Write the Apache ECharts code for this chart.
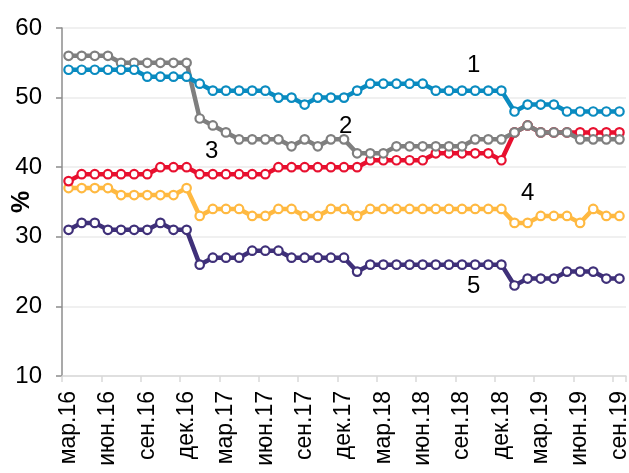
<!DOCTYPE html>
<html>
<head>
<meta charset="utf-8">
<script src="https://cdn.jsdelivr.net/npm/echarts@6/dist/echarts.min.js"></script>
<style>html,body{margin:0;padding:0;background:#fff}#c{width:629px;height:473px}</style>
</head>
<body>
<div id="c"></div>
<script>
const monthNames = ['янв','фев','мар','апр','май','июн','июл','авг','сен','окт','ноя','дек'];
const categories = [];
for (let y = 16; y <= 19; y++) {
  for (let m = 0; m < 12; m++) {
    if (y === 16 && m < 2) continue;
    if (y === 19 && m > 8) continue;
    categories.push(monthNames[m] + '.' + y);
  }
}
const series1 = [54,54,54,54,54,54,53,53,53,53,52,51,51,51,51,
                 51,50,50,49,50,50,50,51,52,52,52,52,52,51,51,
                 51,51,51,51,48,49,49,49,48,48,48,48,48];
const series2 = [56,56,56,56,55,55,55,55,55,55,47,46,45,44,44,
                 44,44,43,44,43,44,44,42,42,42,43,43,43,43,43,
                 43,44,44,44,45,46,45,45,45,44,44,44,44];
const series3 = [38,39,39,39,39,39,39,40,40,40,39,39,39,39,39,
                 39,40,40,40,40,40,40,40,41,41,41,41,41,42,42,
                 42,42,42,41,45,46,45,45,45,45,45,45,45];
const series4 = [37,37,37,37,36,36,36,36,36,37,33,34,34,34,33,
                 33,34,34,33,33,34,34,33,34,34,34,34,34,34,34,
                 34,34,34,34,32,32,33,33,33,32,34,33,33];
const series5 = [31,32,32,31,31,31,31,32,31,31,26,27,27,27,28,
                 28,28,27,27,27,27,27,25,26,26,26,26,26,26,26,
                 26,26,26,26,23,24,24,24,25,25,25,24,24];
const seriesNames = ['1','2','3','4','5'];
const colors = ['#0A8BC0','#7F7F7F','#E8102F','#FFB941','#3F3079'];
const yTicks = [10,20,30,40,50,60];

const allData = [series1, series2, series3, series4, series5];
const chart = echarts.init(document.getElementById('c'), null, {renderer:'canvas'});
const font = 'Liberation Sans, Arial, sans-serif';
chart.setOption({
  animation: false,
  textStyle: {fontFamily: font},
  grid: {left: 62, right: 3, top: 28, bottom: 97, containLabel: false, outerBoundsMode: 'none'},
  xAxis: {
    type: 'category',
    data: categories,
    boundaryGap: true,
    axisLine: {lineStyle: {color: '#d9d9d9', width: 1.5}},
    axisTick: {show: true, interval: 2, length: 6, lineStyle: {color: '#d9d9d9', width: 1.5}},
    axisLabel: {interval: 2, rotate: 90, fontSize: 23, color: '#000', margin: 15, fontFamily: font, hideOverlap: false},
    splitLine: {show: false}
  },
  yAxis: {
    type: 'value',
    min: yTicks[0], max: yTicks[yTicks.length-1], interval: 10,
    name: '%', nameLocation: 'middle', nameGap: 27, nameRotate: 90, nameMoveOverlap: false,
    nameTextStyle: {fontSize: 25, fontWeight: 'bold', color: '#000', fontFamily: font},
    axisLine: {show: true, lineStyle: {color: '#8c8c8c', width: 1.5}},
    axisTick: {show: true, length: 6, lineStyle: {color: '#8c8c8c', width: 1.5}},
    axisLabel: {fontSize: 24, color: '#000', margin: 20, fontFamily: font},
    splitLine: {lineStyle: {color: '#ebebeb', width: 1.5}}
  },
  series: allData.map((d, k) => ({
    name: seriesNames[k],
    type: 'line',
    data: d,
    symbol: 'circle',
    symbolSize: 8.5,
    showAllSymbol: true,
    z: 10 - k,
    lineStyle: {color: colors[k], width: 4.5},
    itemStyle: {color: '#fff', borderColor: colors[k], borderWidth: 2.2}
  })),
  graphic: [
    {type:'text', left: 467, top: 53, style:{text:'1', fontSize: 24, fill:'#000', fontFamily: font}},
    {type:'text', left: 339, top: 114, style:{text:'2', fontSize: 24, fill:'#000', fontFamily: font}},
    {type:'text', left: 205, top: 139, style:{text:'3', fontSize: 24, fill:'#000', fontFamily: font}},
    {type:'text', left: 521, top: 181, style:{text:'4', fontSize: 24, fill:'#000', fontFamily: font}},
    {type:'text', left: 467, top: 274, style:{text:'5', fontSize: 24, fill:'#000', fontFamily: font}}
  ]
});
</script>
</body>
</html>
